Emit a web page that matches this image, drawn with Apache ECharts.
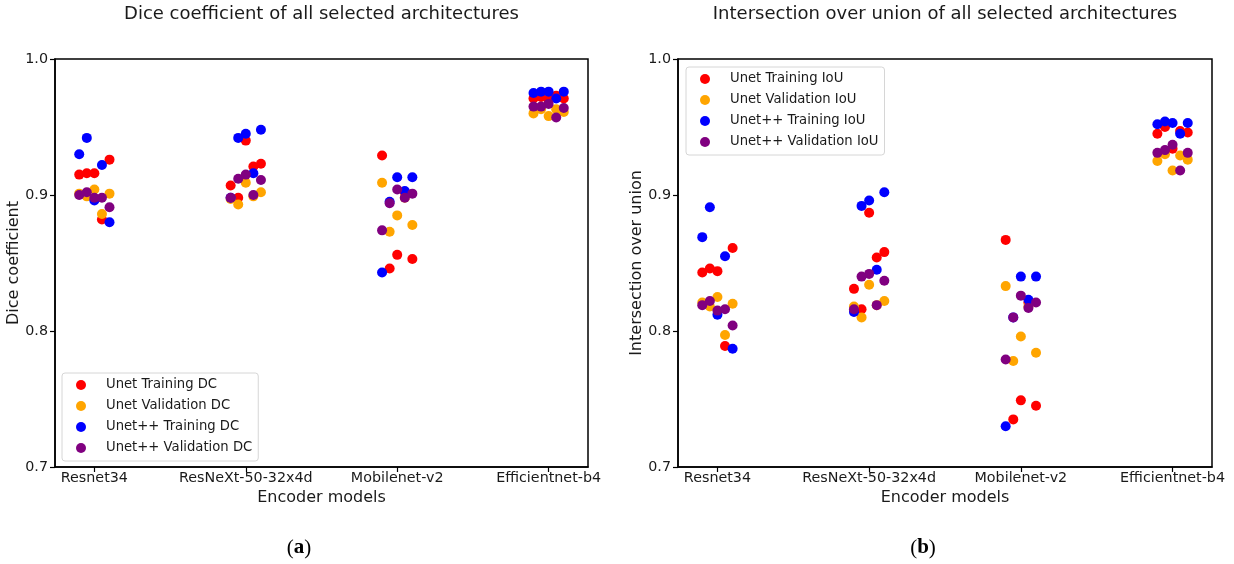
<!DOCTYPE html>
<html>
<head>
<meta charset="utf-8">
<script src="https://cdn.jsdelivr.net/npm/echarts@6/dist/echarts.min.js"></script>
<style>html,body{margin:0;padding:0;background:#fff}#c{width:1234px;height:564px}</style>
</head>
<body>
<div id="c"></div>
<script>
const categories = ['Resnet34', 'ResNeXt-50-32x4d', 'Mobilenet-v2', 'Efficientnet-b4'];
const foldOffsets = [-0.1, -0.05, 0, 0.05, 0.1];
const yTicks = [0.7, 0.8, 0.9, 1.0];

// Dice coefficient (per encoder, 5 folds)
const unetTrainDC   = [[0.915,0.916,0.916,0.882,0.926],[0.907,0.898,0.940,0.921,0.923],[0.929,0.846,0.856,0.902,0.853],[0.971,0.972,0.970,0.973,0.971]];
const unetValDC     = [[0.901,0.899,0.904,0.886,0.901],[0.897,0.893,0.909,0.899,0.902],[0.909,0.873,0.885,0.898,0.878],[0.960,0.963,0.958,0.963,0.961]];
const unetppTrainDC = [[0.930,0.942,0.896,0.922,0.880],[0.898,0.942,0.945,0.916,0.948],[0.843,0.895,0.913,0.903,0.913],[0.975,0.976,0.976,0.971,0.976]];
const unetppValDC   = [[0.900,0.902,0.898,0.898,0.891],[0.898,0.912,0.915,0.900,0.911],[0.874,0.894,0.904,0.898,0.901],[0.965,0.965,0.967,0.957,0.964]];

// Intersection over union
const unetTrainIoU   = [[0.843,0.846,0.844,0.789,0.861],[0.831,0.816,0.887,0.854,0.858],[0.867,0.735,0.749,0.821,0.745],[0.945,0.950,0.934,0.947,0.946]];
const unetValIoU     = [[0.821,0.818,0.825,0.797,0.820],[0.818,0.810,0.834,0.819,0.822],[0.833,0.778,0.796,0.818,0.784],[0.925,0.930,0.918,0.929,0.926]];
const unetppTrainIoU = [[0.869,0.891,0.812,0.855,0.787],[0.814,0.892,0.896,0.845,0.902],[0.730,0.810,0.840,0.823,0.840],[0.952,0.954,0.953,0.945,0.953]];
const unetppValIoU   = [[0.819,0.822,0.815,0.816,0.804],[0.816,0.840,0.842,0.819,0.837],[0.779,0.810,0.826,0.817,0.821],[0.931,0.933,0.937,0.918,0.931]];

const seriesColors = ['#ff0000', '#ffa500', '#0000ff', '#800080'];
const FONT = 'DejaVu Sans';
const TXT = '#1a1a1a';

function toPoints(arr) {
  const pts = [];
  arr.forEach((vals, ci) => vals.forEach((v, fi) => pts.push([ci + foldOffsets[fi], v])));
  return pts;
}

const leftNames = ['Unet Training DC', 'Unet Validation DC', 'Unet++ Training DC', 'Unet++ Validation DC'];
const rightNames = ['Unet Training IoU', 'Unet Validation IoU', 'Unet++ Training IoU', 'Unet++ Validation IoU'];
const leftData = [unetTrainDC, unetValDC, unetppTrainDC, unetppValDC];
const rightData = [unetTrainIoU, unetValIoU, unetppTrainIoU, unetppValIoU];

function xAxis(gi) {
  return {
    type: 'value', gridIndex: gi, min: -0.26, max: 3.26,
    name: 'Encoder models', nameLocation: 'middle', nameGap: 21,
    nameTextStyle: { fontFamily: FONT, fontSize: 16, color: TXT },
    splitLine: { show: false },
    axisLine: { show: true, onZero: false, lineStyle: { color: '#000', width: 1.5 } },
    axisTick: { show: true, inside: false, length: 5, customValues: [0, 1, 2, 3], lineStyle: { color: '#000', width: 1.2 } },
    axisLabel: { show: true, margin: 4, customValues: [0, 1, 2, 3], fontFamily: FONT, fontSize: 14.3, color: TXT,
      formatter: v => categories[Math.round(v)] }
  };
}
function yAxis(gi, name) {
  return {
    type: 'value', gridIndex: gi, min: 0.7, max: 1.0, interval: 0.1,
    name: name, nameLocation: 'middle', nameGap: 30,
    nameTextStyle: { fontFamily: FONT, fontSize: 16, color: TXT },
    splitLine: { show: false },
    axisLine: { show: true, onZero: false, lineStyle: { color: '#000', width: 1.5 } },
    axisTick: { show: true, inside: false, length: 5, customValues: yTicks, lineStyle: { color: '#000', width: 1.2 } },
    axisLabel: { show: true, margin: 7, customValues: yTicks, fontFamily: FONT, fontSize: 14.3, color: TXT,
      formatter: v => v.toFixed(1) }
  };
}
function legend(names, left, top) {
  return {
    data: names, orient: 'vertical', left: left, top: top,
    icon: 'circle', itemWidth: 10, itemHeight: 10, itemGap: 5,
    padding: [4, 6, 5, 14],
    borderColor: '#d6d6d6', borderWidth: 1, borderRadius: 3, backgroundColor: '#fff',
    selectedMode: false,
    textStyle: { fontFamily: FONT, fontSize: 13.2, color: TXT, lineHeight: 16, padding: [0, 0, 0, 15] }
  };
}

const series = [];
leftNames.forEach((n, i) => series.push({
  name: n, type: 'scatter', xAxisIndex: 0, yAxisIndex: 0, data: toPoints(leftData[i]),
  symbolSize: 10, itemStyle: { color: seriesColors[i], opacity: 1 }, z: 2 + i
}));
rightNames.forEach((n, i) => series.push({
  name: n, type: 'scatter', xAxisIndex: 1, yAxisIndex: 1, data: toPoints(rightData[i]),
  symbolSize: 10, itemStyle: { color: seriesColors[i], opacity: 1 }, z: 2 + i
}));

const chart = echarts.init(document.getElementById('c'), null, { renderer: 'canvas' });
chart.setOption({
  animation: false,
  backgroundColor: '#fff',
  grid: [
    { left: 55, top: 59, width: 533, height: 408, show: true, borderColor: '#000', borderWidth: 1.5, backgroundColor: 'transparent' },
    { left: 678, top: 59, width: 534, height: 408, show: true, borderColor: '#000', borderWidth: 1.5, backgroundColor: 'transparent' }
  ],
  xAxis: [xAxis(0), xAxis(1)],
  yAxis: [yAxis(0, 'Dice coefficient'), yAxis(1, 'Intersection over union')],
  legend: [legend(leftNames, 62, 373), legend(rightNames, 686, 67)],
  graphic: [
    { type: 'text', x: 321.5, y: 14, style: { text: 'Dice coefficient of all selected architectures', align: 'center', verticalAlign: 'middle', fontFamily: FONT, fontSize: 18, fill: TXT } },
    { type: 'text', x: 945, y: 14, style: { text: 'Intersection over union of all selected architectures', align: 'center', verticalAlign: 'middle', fontFamily: FONT, fontSize: 18, fill: TXT } },
    { type: 'text', x: 299, y: 548, style: { text: '({b|a})', align: 'center', verticalAlign: 'middle', fontFamily: 'Liberation Serif', fontSize: 21, fill: '#000',
      rich: { b: { fontFamily: 'Liberation Serif', fontSize: 21, fontWeight: 'bold', fill: '#000' } } } },
    { type: 'text', x: 923, y: 548, style: { text: '({b|b})', align: 'center', verticalAlign: 'middle', fontFamily: 'Liberation Serif', fontSize: 21, fill: '#000',
      rich: { b: { fontFamily: 'Liberation Serif', fontSize: 21, fontWeight: 'bold', fill: '#000' } } } }
  ],
  series: series
});
</script>
</body>
</html>
